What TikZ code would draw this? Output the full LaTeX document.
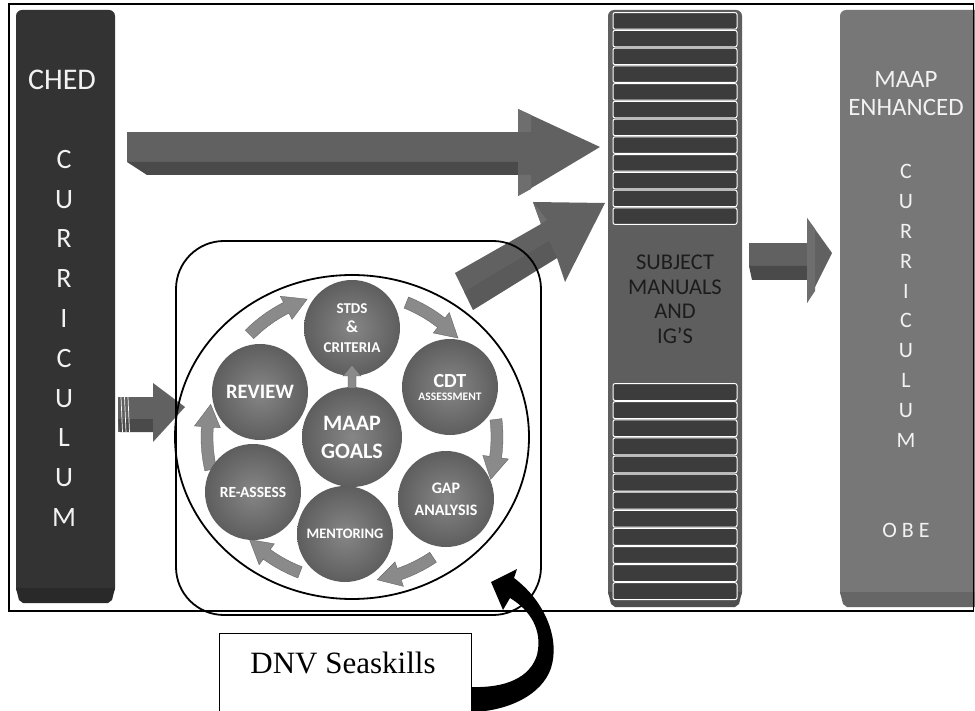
\documentclass[tikz,border=0pt]{standalone}
\usepackage{fontspec}
\setmainfont{Liberation Serif}
\newfontfamily\calib{Carlito}
\usetikzlibrary{calc}
\definecolor{chedcol}{HTML}{333333}
\definecolor{chedbot}{HTML}{292929}
\definecolor{subjcol}{HTML}{5E5E5E}
\definecolor{subjbot}{HTML}{4E4E4E}
\definecolor{stripecol}{HTML}{3C3C3C}
\definecolor{maapcol}{HTML}{777777}
\definecolor{maapbot}{HTML}{666666}
\definecolor{arrcol}{HTML}{616161}
\definecolor{arrdark}{HTML}{4A4A4A}
\definecolor{arrlight}{HTML}{6E6E6E}
\definecolor{ringcol}{HTML}{8A8A8A}
\definecolor{circin}{HTML}{868686}
\definecolor{circout}{HTML}{5E5E5E}
\definecolor{lighttext}{HTML}{F2F2F2}
\definecolor{darktext}{HTML}{1C1C1C}
\tikzset{
  coltext/.style={inner sep=0pt, align=center, text=lighttext},
  stepcirc/.style={circle, minimum size=96pt, inner sep=0pt, align=center,
    inner color=circin, outer color=circout, text=white,
    font=\calib\bfseries},
  ringarrow/.style={fill=ringcol, draw=gray!70!black, line width=0.3pt},
  framebox/.style={draw=black, line width=1.3pt},
}
\begin{document}
\begin{tikzpicture}[x=1pt,y=-1pt]
\useasboundingbox (0,0) rectangle (975,711);
\clip (0,0) rectangle (975,711);
\fill[white] (0,0) rectangle (975,711);

% ---- CHED column
\fill[chedcol, rounded corners=6] (16,10) rectangle (115,594);
\fill[chedbot] (16,588) -- (115,588) -- (112,600) -- (108,603) -- (23,603) -- (19,600) -- cycle;
\node[coltext, font=\calib\fontsize{30}{34}\selectfont] (ched) at (62,80) {CHED};
\node[coltext, anchor=north, font=\calib\fontsize{28}{39.8}\selectfont] (chedv) at (64,150)
  {C\\U\\R\\R\\I\\C\\U\\L\\U\\M};

% ---- subject column
\fill[subjcol, rounded corners=6] (608,10) rectangle (742,598);
\fill[subjbot] (608,592) -- (742,592) -- (739,604) -- (735,607) -- (615,607) -- (611,604) -- cycle;
\foreach \i in {0,...,11}{
  \pgfmathsetmacro\ya{12+\i*17.75}
  \draw[fill=stripecol, draw=white, line width=1pt, rounded corners=2]
    (613,\ya+0.6) rectangle (737,\ya+17.15);
  \pgfmathsetmacro\yb{383+\i*18.1}
  \draw[fill=stripecol, draw=white, line width=1pt, rounded corners=2]
    (613,\yb+0.6) rectangle (737,\yb+17.5);
}
\node[coltext, anchor=north, text=darktext, font=\calib\fontsize{22.5}{24.7}\selectfont] (subj) at (675,254.5)
  {SUBJECT\\MANUALS\\AND\\IG’S};

% ---- MAAP column
\fill[maapcol, rounded corners=6] (840,10) rectangle (985,598);
\fill[maapbot] (840,592) -- (985,592) -- (985,607) -- (847,607) -- (843,604) -- cycle;
\node[coltext, anchor=north, font=\calib\fontsize{25}{28}\selectfont] (maapt) at (906,71)
  {MAAP\\ENHANCED};
\node[coltext, anchor=north, font=\calib\fontsize{22}{29.8}\selectfont] (maapv) at (906,164.5)
  {C\\U\\R\\R\\I\\C\\U\\L\\U\\M};
\node[coltext, font=\calib\fontsize{22}{26}\selectfont] (obe) at (906,530) {O B E};

% ---- top block arrow
\fill[arrcol] (127,132) -- (518,132) -- (518,162) -- (127,162) -- cycle;
\fill[arrdark] (127,162) -- (518,162) -- (518,175) -- (147,175) -- cycle;
\fill[arrcol] (518,109) -- (600,147) -- (518,196) -- cycle;
\fill[arrlight] (518,109) -- (531,115) -- (531,132) -- (518,132) -- cycle;
\fill[arrlight] (518,175) -- (531,175) -- (531,189) -- (518,196) -- cycle;

% ---- diagonal block arrow
\fill[arrcol] (455,273) -- (541,224) -- (533,202) -- (605,203) -- (565,282) -- (557,258) -- (473,310) -- cycle;
\fill[arrdark, opacity=0.3] (464,292) -- (549,241) -- (557,258) -- (473,310) -- cycle;
\fill[arrlight] (533,202) -- (547,220) -- (541,224) -- cycle;

% ---- right block arrow
\fill[arrcol] (749,243) -- (808,243) -- (808,266) -- (749,266) -- cycle;
\fill[arrdark] (749,266) -- (808,266) -- (808,280) -- (752,280) -- cycle;
\fill[arrcol] (807,218) -- (832,253) -- (807,303) -- cycle;
\fill[arrlight] (807,218) -- (815,229) -- (815,291) -- (807,303) -- cycle;

% ---- small arrow into cycle
\fill[arrcol] (118,397) -- (153,397) -- (153,432) -- (118,432) -- cycle;
\fill[arrdark] (118,419) -- (153,419) -- (153,432) -- (120,432) -- cycle;
\fill[arrcol] (153,383) -- (185,407) -- (153,442) -- cycle;
\foreach \xs in {121,124.5,128}{
  \draw[white, line width=0.7pt] (\xs,397) -- (\xs+1.5,432);
}

% ---- cycle
\coordinate (ringc) at (352,437);
\draw[black, line width=1.8pt] (ringc) ellipse [x radius=177, y radius=162];
\foreach \a/\b in {-135/-108, -68/-43, -7/17, 56/80, 111/135, 167/193}{
  \pgfmathsetmacro\h{\b-9}
  \fill[ringarrow] ($(ringc)+(\a:139)$) arc[start angle=\a, end angle=\h, radius=139]
    -- ($(ringc)+(\h:132)$) -- ($(ringc)+(\b:145)$) -- ($(ringc)+(\h:158)$)
    -- ($(ringc)+(\h:151)$) arc[start angle=\h, end angle=\a, radius=151] -- cycle;
}
\node[stepcirc, font=\calib\bfseries\fontsize{15}{19.5}\selectfont] (stds) at (352,328) {STDS\\{\fontsize{17}{19.5}\selectfont\&}\\CRITERIA};
\node[stepcirc] (cdt) at (450,387) {{\fontsize{20}{20}\selectfont CDT}\\[1pt]{\fontsize{11.5}{12}\selectfont ASSESSMENT}};
\node[stepcirc, font=\calib\bfseries\fontsize{16}{22}\selectfont] (gap) at (446,499) {GAP\\ANALYSIS};
\node[stepcirc, font=\calib\bfseries\fontsize{14.5}{17}\selectfont] (ment) at (345,534) {MENTORING};
\node[stepcirc, font=\calib\bfseries\fontsize{15.5}{17}\selectfont] (reas) at (253,492) {RE-ASSESS};
\node[stepcirc, font=\calib\bfseries\fontsize{20.5}{22}\selectfont] (review) at (260,392) {REVIEW};
\node[stepcirc, minimum size=100pt, font=\calib\bfseries\fontsize{22}{28}\selectfont] (goals) at (352,437) {MAAP\\GOALS};
\fill[ringcol, draw=gray!70!black, line width=0.3pt]
  (348,388) -- (348,376) -- (343,376) -- (352,365) -- (361,376) -- (356,376) -- (356,388) -- cycle;

% ---- rounded frame around the cycle
\draw[black, line width=1.8pt, rounded corners=48] (176,241) rectangle (541,615);

% ---- outer frame
\draw[framebox] (9,4) rectangle (973.5,611);

% ---- DNV box and curved arrow
\node[draw=black, line width=1pt, fill=white, minimum width=252pt, minimum height=100pt,
  anchor=north west, inner sep=0pt] (dnvbox) at (219,633) {};
\node[font=\fontsize{31}{36}\selectfont, anchor=base] (dnv) at (343,673) {DNV Seaskills};
\fill[black] (514,578) .. controls (546,602) and (560,640) .. (551,668)
  .. controls (542,695) and (508,711) .. (dnvbox.east |- 0,712)
  -- (dnvbox.east |- 0,687)
  .. controls (505,688) and (530,678) .. (537,655)
  .. controls (543,630) and (530,610) .. (510,598)
  -- (503,610) -- (491,582) -- (517,569) -- cycle;
\end{tikzpicture}
\end{document}
